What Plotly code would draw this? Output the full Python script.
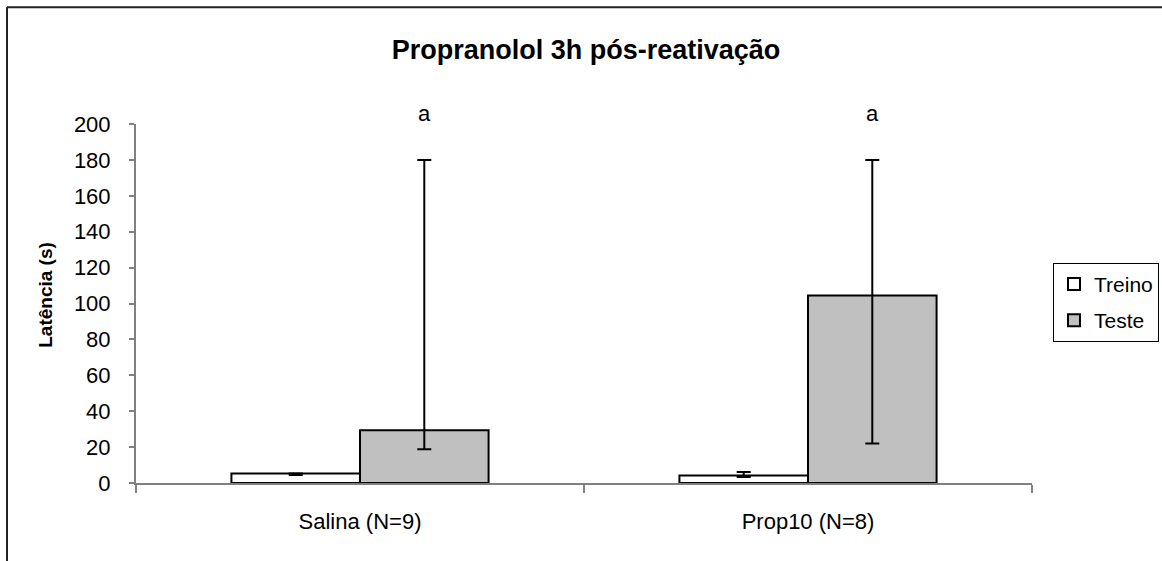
import plotly.graph_objects as go

categories = ["Salina (N=9)", "Prop10 (N=8)"]
series_names = ["Treino", "Teste"]
treino = [5.3, 4.2]
treino_err_plus = [0.0, 1.9]
treino_err_minus = [0.8, 0.9]
teste = [29.4, 104.4]
teste_err_plus = [150.6, 75.6]
teste_err_minus = [10.6, 82.4]
sig_labels = ["a", "a"]
y_ticks = list(range(0, 201, 20))
y_max = 200

FONT = "Liberation Sans, Arial, sans-serif"
bargap = 0.426
W, H = 1162, 561
L, R, T, B = 136, 130, 124, 77.5
pw, ph = W - L - R, H - T - B

fig = go.Figure()
fig.add_trace(go.Bar(
    name=series_names[0], x=categories, y=treino,
    marker=dict(color="white", line=dict(color="black", width=2)),
    error_y=dict(type="data", symmetric=False, array=treino_err_plus,
                 arrayminus=treino_err_minus, color="black", thickness=2, width=7),
    legendgroup="g1",
))
fig.add_trace(go.Bar(
    name=series_names[1], x=categories, y=teste,
    marker=dict(color="#C0C0C0", line=dict(color="black", width=2)),
    error_y=dict(type="data", symmetric=False, array=teste_err_plus,
                 arrayminus=teste_err_minus, color="black", thickness=2, width=7),
    legendgroup="g2",
))

# significance letters above Teste bars
offset = (1 - bargap) / 4
n = len(categories)
for i, lab in enumerate(sig_labels):
    fig.add_annotation(x=(i + 0.5 + offset) / n, y=206 / y_max, xref="paper", yref="paper",
                       text=lab, showarrow=False, xanchor="center", yanchor="middle",
                       font=dict(family=FONT, size=22, color="black"))

# y-axis title
fig.add_annotation(x=(46 - L) / pw, y=(H - B - 295) / ph, xref="paper", yref="paper",
                   text="<b>Latência (s)</b>", textangle=-90, showarrow=False,
                   xanchor="center", yanchor="middle",
                   font=dict(family=FONT, size=19, color="black"))

# outer frame (left and top only visible)
fx = (7 - L) / pw
fy_top = (H - B - 7) / ph
fy_bot = (H - B - H - 5) / ph
fx_right = (W + 5 - L) / pw
fig.add_shape(type="line", xref="paper", yref="paper", x0=fx, x1=fx, y0=fy_bot, y1=fy_top,
              line=dict(color="#222", width=2))
fig.add_shape(type="line", xref="paper", yref="paper", x0=fx, x1=fx_right, y0=fy_top, y1=fy_top,
              line=dict(color="#222", width=2))

fig.update_layout(
    width=W, height=H,
    margin=dict(l=L, r=R, t=T, b=B, autoexpand=False),
    paper_bgcolor="white", plot_bgcolor="white",
    barmode="group", bargap=bargap, bargroupgap=0,
    title=dict(text="<b>Propranolol 3h pós-reativação</b>", x=586 / W, xanchor="center",
               y=1 - 50 / H, yanchor="middle", font=dict(family=FONT, size=27, color="black")),
    font=dict(family=FONT, color="black"),
    legend=dict(x=(1053 - L) / pw, y=(H - B - 263) / ph, xanchor="left", yanchor="top",
                bordercolor="black", borderwidth=1, bgcolor="white",
                font=dict(family=FONT, size=21, color="black"),
                traceorder="grouped", tracegroupgap=6),
    xaxis=dict(type="category", showline=True, linecolor="#808080", linewidth=2,
               ticks="outside", tickson="boundaries", ticklen=8, tickcolor="#808080",
               tickwidth=2, tickfont=dict(family=FONT, size=22, color="black"),
               ticklabelstandoff=18, showgrid=False, zeroline=False),
    yaxis=dict(range=[0, y_max], tickvals=y_ticks, showline=True, linecolor="#808080",
               linewidth=2, ticks="outside", ticklen=5, tickcolor="#808080", tickwidth=1.5,
               tickfont=dict(family=FONT, size=22, color="black"), ticklabelstandoff=14,
               showgrid=False, zeroline=False),
)

fig.write_html("out.html")
